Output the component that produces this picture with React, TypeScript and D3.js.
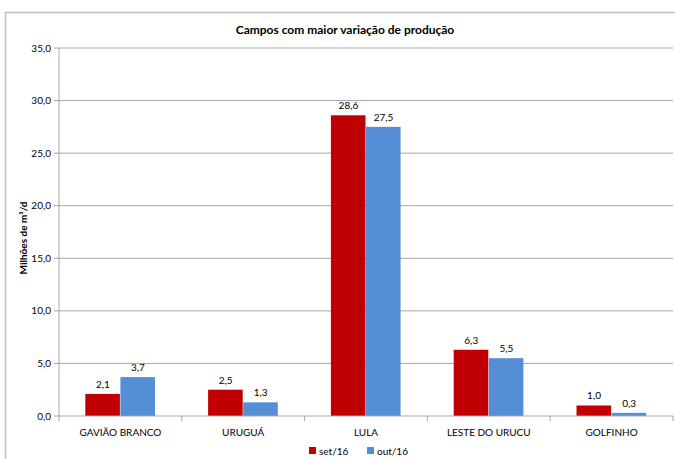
import React from "react";
import * as d3 from "d3";

const categories = ["GAVIÃO BRANCO", "URUGUÁ", "LULA", "LESTE DO URUCU", "GOLFINHO"];
const seriesNames = ["set/16", "out/16"];
const setValues = [2.1, 2.5, 28.6, 6.3, 1.0];
const outValues = [3.7, 1.3, 27.5, 5.5, 0.3];
const yTicks = [0, 5, 10, 15, 20, 25, 30, 35];
const colors = ["#C00000", "#558ED5"];

const W = 675;
const H = 459;
const FONT = "Lato, 'Open Sans', sans-serif";

export default function App() {
  const left = 59, right = 673, top = 48, bottom = 416;
  const x = d3.scaleBand<string>().domain(categories).range([left, right]).paddingInner(0).paddingOuter(0);
  const bw = x.bandwidth();
  const barW = bw / 3.5;
  const y = d3.scaleLinear().domain([0, 35]).range([bottom, top]);
  const series = [setValues, outValues];
  const fmt = (v: number) => v.toFixed(1).replace(".", ",");

  return (
    <svg width={W} height={H} style={{ position: "absolute", left: 0, top: 0 }} xmlns="http://www.w3.org/2000/svg">
      <rect x={0} y={0} width={W} height={H} fill="#fff" />
      <path d={`M5.5,${H} V12.5 H${W}`} fill="none" stroke="#bfbfbf" strokeWidth={1.5} />
      <text x={345} y={34} textAnchor="middle" fontFamily={FONT} fontWeight="bold" fontSize={12} fill="#000">
        Campos com maior variação de produção
      </text>
      {yTicks.map((t) => (
        <g key={t}>
          {t > 0 && <line x1={left} x2={right} y1={y(t)} y2={y(t)} stroke="#a6a6a6" strokeWidth={1} />}
          <line x1={left - 5} x2={left} y1={y(t)} y2={y(t)} stroke="#a6a6a6" strokeWidth={1} />
          <text x={left - 8} y={y(t) + 3.5} textAnchor="end" fontFamily={FONT} fontSize={10} fill="#000">
            {fmt(t)}
          </text>
        </g>
      ))}
      <line x1={left} x2={left} y1={top} y2={bottom} stroke="#a6a6a6" strokeWidth={1} />
      {categories.map((c, i) =>
        series.map((s, k) => {
          const x0 = (x(c) as number) + (bw - 2 * barW) / 2 + k * barW;
          return (
            <g key={c + k}>
              <rect x={x0} y={y(s[i])} width={barW - 0.5} height={bottom - y(s[i])} fill={colors[k]} />
              <text x={x0 + barW / 2} y={y(s[i]) - 6} textAnchor="middle" fontFamily={FONT} fontSize={10} fill="#000">
                {fmt(s[i])}
              </text>
            </g>
          );
        })
      )}
      <line x1={left} x2={right} y1={bottom} y2={bottom} stroke="#a6a6a6" strokeWidth={1} />
      {d3.range(categories.length + 1).map((i) => (
        <line key={i} x1={left + i * bw} x2={left + i * bw} y1={bottom} y2={bottom + 5} stroke="#a6a6a6" strokeWidth={1} />
      ))}
      {categories.map((c) => (
        <text key={c} x={(x(c) as number) + bw / 2} y={436} textAnchor="middle" fontFamily={FONT} fontSize={10} fill="#000">
          {c}
        </text>
      ))}
      <text transform={`translate(27,238) rotate(-90)`} textAnchor="middle" fontFamily={FONT} fontWeight="bold" fontSize={10} fill="#000">
        Milhões de m³/d
      </text>
      {seriesNames.map((n, k) => (
        <g key={n} transform={`translate(${309 + k * 58},447)`}>
          <rect x={0} y={0} width={7} height={7} fill={colors[k]} />
          <text x={10} y={7.5} fontFamily={FONT} fontSize={10} fill="#000">{n}</text>
        </g>
      ))}
    </svg>
  );
}
